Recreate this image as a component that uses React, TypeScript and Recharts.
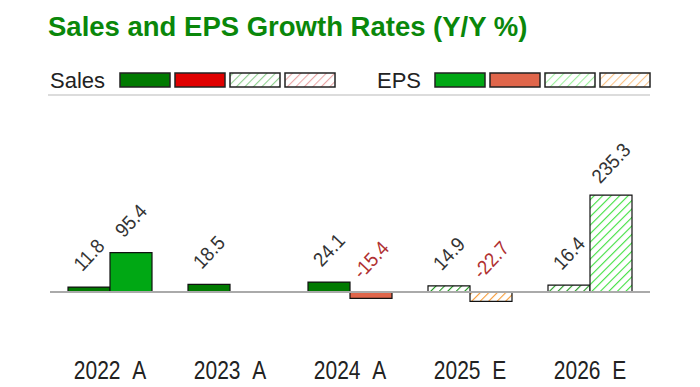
import React from "react";
import { BarChart, Bar, XAxis, YAxis, Cell, LabelList, ReferenceLine } from "recharts";

const CATEGORIES = ["2022\u00a0\u00a0A", "2023\u00a0\u00a0A", "2024\u00a0\u00a0A", "2025\u00a0\u00a0E", "2026\u00a0\u00a0E"];
const SALES_GROWTH = [11.8, 18.5, 24.1, 14.9, 16.4];
const EPS_GROWTH: (number | null)[] = [95.4, null, -15.4, -22.7, 235.3];
const IS_ESTIMATE = [false, false, false, true, true];

const TITLE = "Sales and EPS Growth Rates (Y/Y %)";

const data = CATEGORIES.map((name, i) => ({
  name,
  sales: SALES_GROWTH[i],
  eps: EPS_GROWTH[i],
  est: IS_ESTIMATE[i],
}));

const COLORS = {
  salesPos: "#007a00",
  salesNeg: "#e00000",
  epsPos: "#00a814",
  epsNeg: "#e0664b",
  salesPosHatch: "#1f961f",
  salesNegHatch: "#e08a8a",
  epsPosHatch: "#3ee03e",
  epsNegHatch: "#f79a35",
  title: "#0a870a",
};

const SANS = "'Liberation Sans', Arial, sans-serif";

const salesFill = (v: number, est: boolean) =>
  est ? (v >= 0 ? "url(#hSalesPos)" : "url(#hSalesNeg)") : v >= 0 ? COLORS.salesPos : COLORS.salesNeg;
const epsFill = (v: number | null, est: boolean) =>
  v == null ? "none" : est ? (v >= 0 ? "url(#hEpsPos)" : "url(#hEpsNeg)") : v >= 0 ? COLORS.epsPos : COLORS.epsNeg;

const Hatch = ({ id, color }: { id: string; color: string }) => (
  <pattern id={id} width={6} height={6} patternUnits="userSpaceOnUse" patternTransform="rotate(45)">
    <rect width={6} height={6} fill="#fff" />
    <line x1={0} y1={0} x2={0} y2={6} stroke={color} strokeWidth={2.2} />
  </pattern>
);

const GrowthLabel = (props: any) => {
  const { x, y, width, height, value } = props;
  if (value == null) return null;
  const cx = Number(x) + Number(width) / 2;
  const top = Math.min(Number(y), Number(y) + Number(height));
  const cy = top - 32;
  return (
    <text
      x={0}
      y={0}
      transform={`translate(${cx} ${cy}) rotate(-47) scale(0.92 1)`}
      textAnchor="middle"
      dominantBaseline="central"
      fontSize={20}
      fontFamily={SANS}
      fill={value < 0 ? "#b03030" : "#333"}
    >
      {Number(value).toFixed(1)}
    </text>
  );
};

const XTick = (props: any) => {
  const { x, y, payload } = props;
  const ty = Number(y) + 42;
  return (
    <text
      x={0}
      y={0}
      transform={`translate(${x} ${ty}) scale(0.84 1)`}
      textAnchor="middle"
      fontSize={25}
      fontFamily={SANS}
      fill="#222"
    >
      {payload.value}
    </text>
  );
};

const LEGEND_SALES = [
  { fill: COLORS.salesPos },
  { fill: COLORS.salesNeg },
  { fill: "url(#lSalesPos)" },
  { fill: "url(#lSalesNeg)" },
];
const LEGEND_EPS = [
  { fill: COLORS.epsPos },
  { fill: COLORS.epsNeg },
  { fill: "url(#lEpsPos)" },
  { fill: "url(#lEpsNeg)" },
];

const Header = () => (
  <svg width={700} height={110} style={{ position: "absolute", left: 0, top: 0 }}>
    <defs>
      <Hatch id="lSalesPos" color="#8fcf8f" />
      <Hatch id="lSalesNeg" color="#eaa8a8" />
      <Hatch id="lEpsPos" color="#9ef09e" />
      <Hatch id="lEpsNeg" color="#fbc48a" />
    </defs>
    <text x={48} y={36} fontSize={27.5} fontWeight="bold" fontFamily={SANS} fill={COLORS.title}>
      {TITLE}
    </text>
    <text x={50} y={88} fontSize={22} fontFamily={SANS} fill="#222">Sales</text>
    {LEGEND_SALES.map((s, i) => (
      <rect key={i} x={120 + i * 55} y={73} width={50} height={14} fill={s.fill} stroke="#222" strokeWidth={1.5} />
    ))}
    <text x={377} y={88} fontSize={22} fontFamily={SANS} fill="#222">EPS</text>
    {LEGEND_EPS.map((s, i) => (
      <rect key={i} x={435 + i * 55} y={73} width={50} height={14} fill={s.fill} stroke="#222" strokeWidth={1.5} />
    ))}
    <line x1={48} y1={95} x2={650} y2={95} stroke="#d0d0d0" strokeWidth={1.5} />
  </svg>
);

export default function App() {
  return (
    <div style={{ position: "absolute", left: 0, top: 0, width: 700, height: 387, background: "#fff", overflow: "hidden" }}>
      <Header />
      <div style={{ position: "absolute", left: 0, top: 0 }}>
        <BarChart
          width={700}
          height={387}
          data={data}
          margin={{ top: 150, right: 50, bottom: 28, left: 50 }}
          barCategoryGap="15%"
          barGap={0}
        >
          <defs>
            <Hatch id="hSalesPos" color={COLORS.salesPosHatch} />
            <Hatch id="hSalesNeg" color={COLORS.salesNegHatch} />
            <Hatch id="hEpsPos" color={COLORS.epsPosHatch} />
            <Hatch id="hEpsNeg" color={COLORS.epsNegHatch} />
          </defs>
          <XAxis dataKey="name" axisLine={false} tickLine={false} height={30} tick={<XTick />} interval={0} />
          <YAxis hide domain={[-90, 345]} allowDataOverflow />
          <ReferenceLine y={0} stroke="#aaa" strokeWidth={2} />
          <Bar dataKey="sales" isAnimationActive={false} stroke="#111" strokeWidth={1.2}>
            {data.map((d, i) => (
              <Cell key={i} fill={salesFill(d.sales, d.est)} />
            ))}
            <LabelList dataKey="sales" content={<GrowthLabel />} />
          </Bar>
          <Bar dataKey="eps" isAnimationActive={false} stroke="#111" strokeWidth={1.2}>
            {data.map((d, i) => (
              <Cell key={i} fill={epsFill(d.eps, d.est)} />
            ))}
            <LabelList dataKey="eps" content={<GrowthLabel />} />
          </Bar>
        </BarChart>
      </div>
    </div>
  );
}
